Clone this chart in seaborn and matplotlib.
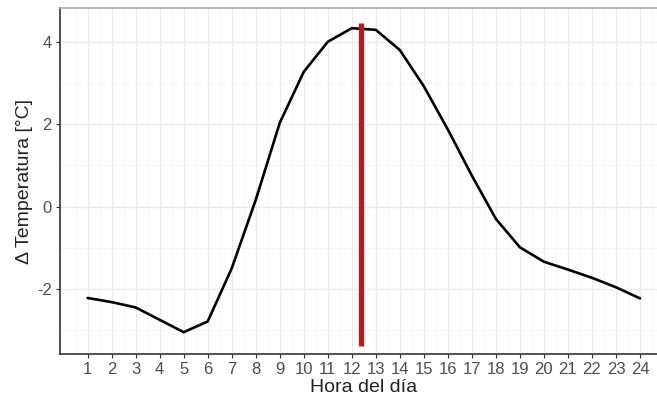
import numpy as np
import pandas as pd
import matplotlib
matplotlib.use("Agg")
import matplotlib.pyplot as plt
import seaborn as sns

# Mean hourly temperature anomaly
horas = list(range(1, 25))
delta_temp = [-2.22, -2.32, -2.45, -2.75, -3.05, -2.79, -1.50, 0.16,
              2.03, 3.27, 4.00, 4.33, 4.29, 3.80, 2.92, 1.87,
              0.75, -0.30, -0.99, -1.34, -1.53, -1.73, -1.96, -2.23]

# Hour of maximum temperature and the vertical marker's extent
hora_max = 12.4
marca_y = [-3.38, 4.45]

y_ticks = [-2, 0, 2, 4]

df = pd.DataFrame({"hora": horas, "delta": delta_temp})

sns.set_theme(style="white")
plt.rcParams["font.family"] = ["Liberation Sans", "DejaVu Sans"]

fig = plt.figure(figsize=(6.57, 4.0), dpi=100)
ax = fig.add_axes([60 / 657, 1 - 354 / 400, (667.6 - 60) / 657, (354 - 8) / 400])

# grid: major at ticks, minor halfway
ax.set_xticks(horas)
ax.set_xticks([h + 0.5 for h in range(0, 25)], minor=True)
ax.set_yticks(y_ticks)
ax.set_yticks([-3, -1, 1, 3], minor=True)
ax.grid(which="major", color="#ebebeb", linewidth=1.0)
ax.grid(which="minor", color="#f4f4f4", linewidth=0.6)
ax.set_axisbelow(True)

sns.lineplot(data=df, x="hora", y="delta", ax=ax, color="black", linewidth=1.9)
for ln in ax.get_lines():
    ln.set_solid_joinstyle("round")
    ln.set_solid_capstyle("round")
ax.plot([hora_max, hora_max], marca_y, color="#b01e1e", linewidth=3.8,
        solid_capstyle="butt", zorder=3)

ax.set_xlim(-0.15, 25.15)
ax.set_ylim(-3.58, 4.82)

for side in ["left", "bottom"]:
    ax.spines[side].set_color("#333333")
    ax.spines[side].set_linewidth(1.2)
ax.spines["top"].set_color("#aaaaaa")
ax.spines["top"].set_linewidth(1.2)
ax.spines["right"].set_visible(False)

ax.tick_params(axis="both", which="major", direction="out", length=3, width=0.8,
               color="#333333", labelcolor="#4d4d4d", labelsize=12, pad=3,
               left=True, bottom=True)
ax.tick_params(which="minor", length=0)
ax.set_xticklabels([str(h) for h in horas])
ax.set_yticklabels([str(v) for v in y_ticks])

ax.set_xlabel("Hora del día", fontsize=14, color="#222222", labelpad=1)
ax.set_ylabel("Δ Temperatura [°C]", fontsize=14, color="#222222", labelpad=3)

fig.savefig("out.png", dpi=100)
